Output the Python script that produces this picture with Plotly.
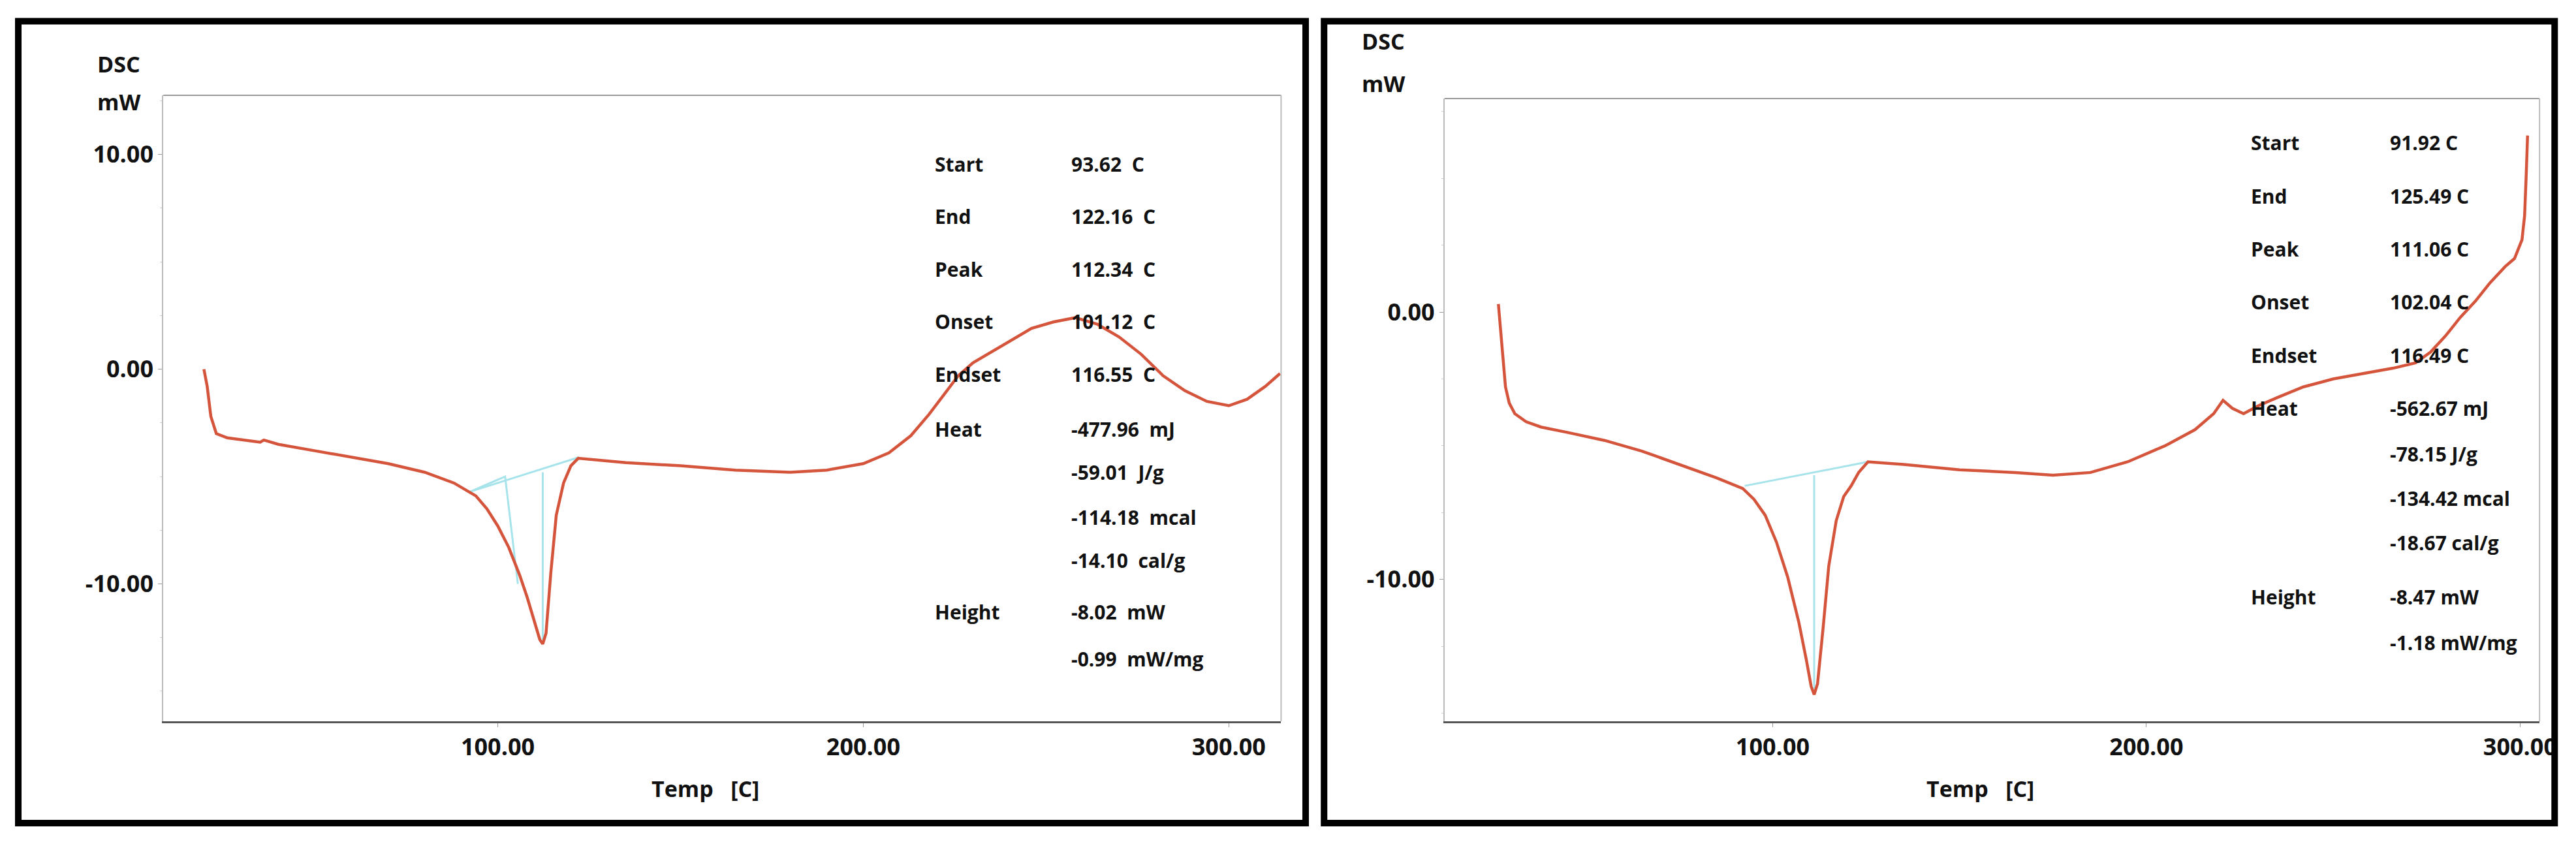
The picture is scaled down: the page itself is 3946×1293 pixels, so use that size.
import plotly.graph_objects as go

# ---- Data (left panel) ----
temp_a = [19.6, 20.5, 21.5, 23, 26, 30, 35, 36, 40, 50, 60, 70, 80, 88, 92, 94, 97, 100, 103, 106, 108, 110, 111.5, 112.3, 113.2, 114.5, 116, 118, 120, 122, 125, 135, 150, 165, 180, 190, 200, 207, 213, 218, 222, 226, 230, 235, 240, 246, 252, 258, 264, 270, 276, 282, 288, 294, 300, 305, 310, 314]
dsc_a = [0.0, -0.8, -2.2, -3.0, -3.2, -3.3, -3.4, -3.3, -3.5, -3.8, -4.1, -4.4, -4.8, -5.3, -5.7, -5.9, -6.5, -7.3, -8.3, -9.6, -10.6, -11.8, -12.6, -12.8, -12.3, -9.5, -6.8, -5.3, -4.5, -4.15, -4.2, -4.35, -4.5, -4.7, -4.8, -4.7, -4.4, -3.9, -3.1, -2.1, -1.2, -0.3, 0.3, 0.8, 1.3, 1.9, 2.2, 2.4, 2.1, 1.5, 0.7, -0.3, -1.0, -1.5, -1.7, -1.4, -0.8, -0.2]
base_a_x = [92.5, 102, 105.5]
base_a_y = [-5.7, -5.0, -10.0]
line_a_x = [92.5, 122.2]
line_a_y = [-5.7, -4.1]
vert_a_x = [112.3, 112.3]
vert_a_y = [-4.8, -12.6]

# ---- Data (right panel) ----
temp_b = [26.6, 27.5, 28.5, 29.5, 31, 34, 38, 45, 55, 65, 75, 85, 92, 95, 98, 101, 104, 107, 109, 110.3, 111.1, 112, 113.5, 115, 117, 119, 121, 123, 125.5, 135, 150, 165, 175, 185, 195, 205, 213, 218, 220.5, 223, 226, 230, 235, 242, 250, 258, 266, 272, 276, 280, 284, 288, 292, 296, 298.5, 300.5, 301.2, 301.6, 302]
dsc_b = [0.3, -1.2, -2.8, -3.4, -3.8, -4.1, -4.3, -4.5, -4.8, -5.2, -5.7, -6.2, -6.6, -7.0, -7.6, -8.6, -9.9, -11.6, -13.0, -14.0, -14.3, -13.9, -11.8, -9.5, -7.8, -6.9, -6.5, -6.0, -5.6, -5.7, -5.9, -6.0, -6.1, -6.0, -5.6, -5.0, -4.4, -3.8, -3.3, -3.6, -3.8, -3.5, -3.2, -2.8, -2.5, -2.3, -2.1, -1.9, -1.5, -0.9, -0.2, 0.4, 1.1, 1.7, 2.0, 2.7, 3.6, 5.0, 6.6]
line_b_x = [92.5, 125.5]
line_b_y = [-6.5, -5.6]
vert_b_x = [111.1, 111.1]
vert_b_y = [-6.1, -14.1]

labels_a = ["Start", "End", "Peak", "Onset", "Endset", "Heat", "Height"]
label_ya = [9.55, 7.12, 4.65, 2.22, -0.25, -2.78, -11.3]
values_a = ["93.62  C", "122.16  C", "112.34  C", "101.12  C", "116.55  C", "-477.96  mJ", "-59.01  J/g", "-114.18  mcal", "-14.10  cal/g", "-8.02  mW", "-0.99  mW/mg"]
value_ya = [9.55, 7.12, 4.65, 2.22, -0.25, -2.78, -4.8, -6.9, -8.9, -11.3, -13.5]

labels_b = ["Start", "End", "Peak", "Onset", "Endset", "Heat", "Height"]
label_yb = [6.33, 4.33, 2.36, 0.38, -1.63, -3.59, -10.65]
values_b = ["91.92 C", "125.49 C", "111.06 C", "102.04 C", "116.49 C", "-562.67 mJ", "-78.15 J/g", "-134.42 mcal", "-18.67 cal/g", "-8.47 mW", "-1.18 mW/mg"]
value_yb = [6.33, 4.33, 2.36, 0.38, -1.63, -3.59, -5.3, -6.96, -8.63, -10.65, -12.36]

W, H = 3946, 1293
RED = "#d4553c"
CYAN = "#a6e3ea"
FONT = "Open Sans"

fig = go.Figure()
cy = dict(color=CYAN, width=3)
fig.add_trace(go.Scatter(x=base_a_x, y=base_a_y, mode="lines", line=cy, xaxis="x", yaxis="y"))
fig.add_trace(go.Scatter(x=line_a_x, y=line_a_y, mode="lines", line=cy, xaxis="x", yaxis="y"))
fig.add_trace(go.Scatter(x=vert_a_x, y=vert_a_y, mode="lines", line=cy, xaxis="x", yaxis="y"))
fig.add_trace(go.Scatter(x=temp_a, y=dsc_a, mode="lines", line=dict(color=RED, width=4.5), xaxis="x", yaxis="y"))
fig.add_trace(go.Scatter(x=line_b_x, y=line_b_y, mode="lines", line=cy, xaxis="x2", yaxis="y2"))
fig.add_trace(go.Scatter(x=vert_b_x, y=vert_b_y, mode="lines", line=cy, xaxis="x2", yaxis="y2"))
fig.add_trace(go.Scatter(x=temp_b, y=dsc_b, mode="lines", line=dict(color=RED, width=4.5), xaxis="x2", yaxis="y2"))

tickfont = dict(family=FONT, size=36, color="#111", weight="bold")
def xax(dom, rng, anchor):
    return dict(domain=dom, range=rng, anchor=anchor, tickvals=[100, 200, 300], ticktext=["100.00", "200.00", "300.00"],
                showline=True, linecolor="#555", linewidth=3, mirror=False, showgrid=False, zeroline=False,
                ticks="outside", ticklen=6, tickcolor="#999", tickfont=tickfont)
def yax(dom, rng, anchor, tv):
    return dict(domain=dom, range=rng, anchor=anchor, tickvals=tv, ticktext=["%.2f" % v for v in tv],
                showline=True, linecolor="#bbb", linewidth=2, mirror=False, showgrid=False, zeroline=False,
                ticks="outside", ticklen=6, tickcolor="#999", tickfont=tickfont,
                minor=dict(ticks="outside", ticklen=3, tickcolor="#ccc", dtick=2.5))

fig.update_layout(
    width=W, height=H, margin=dict(l=0, r=0, t=0, b=0), showlegend=False,
    paper_bgcolor="white", plot_bgcolor="white",
    xaxis=xax([0.0618, 0.4987], [8.5, 314.3], "y"),
    yaxis=yax([0.1516, 0.8933], [-16.4, 12.76], "x", [10, 0, -10]),
    xaxis2=xax([0.5626, 0.9906], [12.2, 305.2], "y2"),
    yaxis2=yax([0.1516, 0.8894], [-15.3, 7.98], "x2", [0, -10]),
)

shapes = []
for x0, x1 in [(0.0051, 0.5083), (0.5155, 0.9965)]:
    shapes.append(dict(type="rect", xref="paper", yref="paper", x0=x0, x1=x1, y0=0.031, y1=0.981,
                       line=dict(color="black", width=10)))
for xd, yd in [((0.0618, 0.4987), (0.1516, 0.8933)), ((0.5626, 0.9906), (0.1516, 0.8894))]:
    shapes.append(dict(type="line", xref="paper", yref="paper", x0=xd[0], x1=xd[1], y0=yd[1], y1=yd[1], line=dict(color="#999", width=2)))
    shapes.append(dict(type="line", xref="paper", yref="paper", x0=xd[1], x1=xd[1], y0=yd[0], y1=yd[1], line=dict(color="#bbb", width=2)))
fig.update_layout(shapes=shapes)

tf = dict(family=FONT, size=30, color="#111")
ann = []
def add_text(xr, yr, x, y, t, anchor="left", font=tf):
    ann.append(dict(xref=xr, yref=yr, x=x, y=y, text="<b>%s</b>" % t, showarrow=False, xanchor=anchor, yanchor="middle", font=font))

for l, y in zip(labels_a, label_ya):
    add_text("x", "y", 219.3, y, l)
for v, y in zip(values_a, value_ya):
    add_text("x", "y", 256.5, y, v)
for l, y in zip(labels_b, label_yb):
    add_text("x2", "y2", 227.7, y, l)
for v, y in zip(values_b, value_yb):
    add_text("x2", "y2", 264.8, y, v)

bf = dict(family=FONT, size=34, color="#111")
add_text("paper", "paper", 0.0355, 1 - 90 / H, "DSC", font=bf)
add_text("paper", "paper", 0.0355, 1 - 148 / H, "mW", font=bf)
add_text("paper", "paper", 0.5297, 1 - 55 / H, "DSC", font=bf)
add_text("paper", "paper", 0.5297, 1 - 120 / H, "mW", font=bf)
add_text("paper", "paper", 0.2737, 1 - 1200 / H, "Temp &nbsp;&nbsp;[C]", anchor="center", font=bf)
add_text("paper", "paper", 0.772, 1 - 1200 / H, "Temp &nbsp;&nbsp;[C]", anchor="center", font=bf)
fig.update_layout(annotations=ann)

fig.write_html("out.html")
